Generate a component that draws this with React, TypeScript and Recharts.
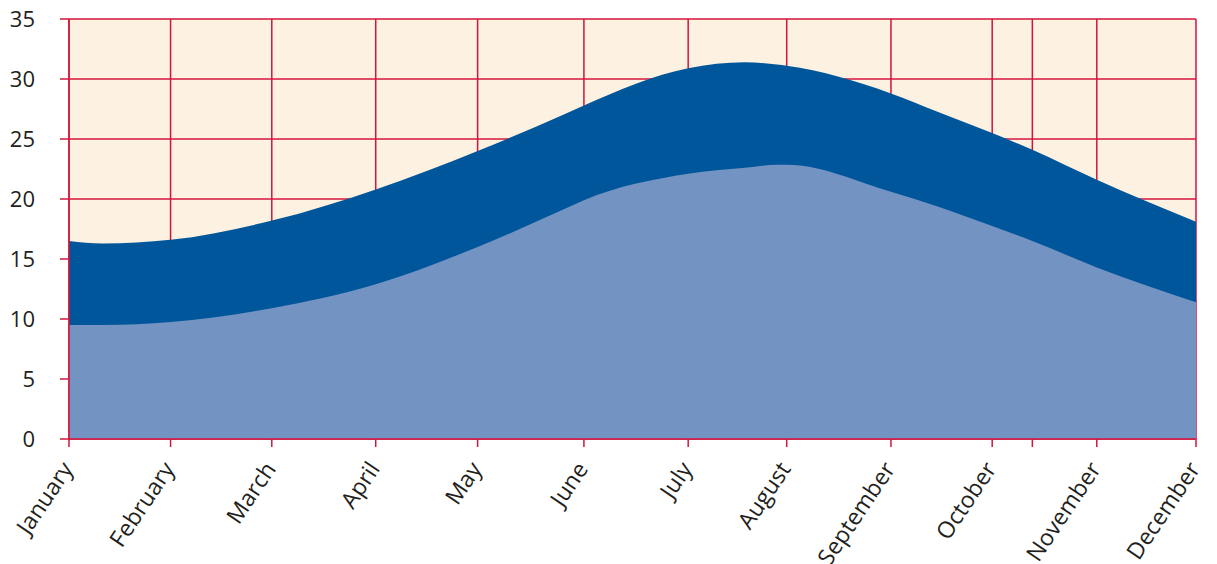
import { AreaChart, Area, XAxis, YAxis, CartesianGrid } from "recharts"

// x positions are day-of-year
const days = [0, 10, 30.1, 60.1, 90.9, 121.1, 146.3, 152.6, 183.5, 200.3, 209.8, 212.7, 243.6, 257.2, 273.6, 285.5, 304.6, 334]
const highTemp = [16.5, 16.3, 16.6, 18.2, 20.8, 24.0, 27.0, 27.8, 30.9, 31.4, 31.2, 31.1, 28.8, 27.3, 25.5, 24.1, 21.6, 18.1]
const lowTemp = [9.5, 9.5, 9.75, 10.9, 12.9, 16.0, 19.1, 19.9, 22.1, 22.6, 22.85, 22.85, 20.6, 19.4, 17.75, 16.5, 14.3, 11.4]

const tickDays = [0, 30.1, 60.1, 90.9, 121.1, 152.6, 183.5, 212.7, 243.6, 273.6, 285.5, 304.6, 334]
const tickLabels = ["January", "February", "March", "April", "May", "June", "July", "August", "September", "October", "", "November", "December"]
const yTicks = [0, 5, 10, 15, 20, 25, 30, 35]

const RED = "#d3143c"
const FONT = "'Open Sans', sans-serif"

const data = days.map((d, i) => ({ day: d, high: highTemp[i], low: lowTemp[i] }))

function MonthTick(props: any) {
  const { x, y, payload } = props
  const idx = tickDays.indexOf(payload.value)
  const label = idx >= 0 ? tickLabels[idx] : ""
  if (!label) return null
  const ax = x + 5
  const ay = y + 20
  return (
    <text
      x={ax}
      y={ay}
      textAnchor="end"
      transform={`rotate(-56, ${ax}, ${ay})`}
      fontSize={23}
      fontFamily={FONT}
      fill="#231f20"
    >
      {label}
    </text>
  )
}

export default function App() {
  return (
    <div style={{ position: "absolute", left: 0, top: 0, width: 1217, height: 564, background: "#fff" }}>
      <AreaChart
        width={1217}
        height={564}
        data={data}
        margin={{ top: 19, right: 21, left: 0, bottom: 0 }}
      >
        <CartesianGrid
          stroke={RED}
          strokeWidth={1.5}
          fill="#fdf1e1"
          fillOpacity={1}
        />
        <XAxis
          dataKey="day"
          type="number"
          domain={[0, 334]}
          ticks={tickDays}
          interval={0}
          height={125}
          axisLine={{ stroke: RED, strokeWidth: 1.5 }}
          tickLine={{ stroke: RED, strokeWidth: 1.5 }}
          tickSize={8}
          tick={<MonthTick />}
        />
        <YAxis
          domain={[0, 35]}
          ticks={yTicks}
          interval={0}
          width={69}
          axisLine={{ stroke: RED, strokeWidth: 1.5 }}
          tickLine={{ stroke: RED, strokeWidth: 1.5 }}
          tickSize={9}
          tickMargin={25}
          tick={{ fontSize: 22, fontFamily: FONT, fill: "#231f20" }}
        />
        <Area
          type="monotone"
          dataKey="high"
          stroke="none"
          fill="#00569a"
          fillOpacity={1}
          isAnimationActive={false}
        />
        <Area
          type="monotone"
          dataKey="low"
          stroke="none"
          fill="#7393c2"
          fillOpacity={1}
          isAnimationActive={false}
        />
      </AreaChart>
    </div>
  )
}
